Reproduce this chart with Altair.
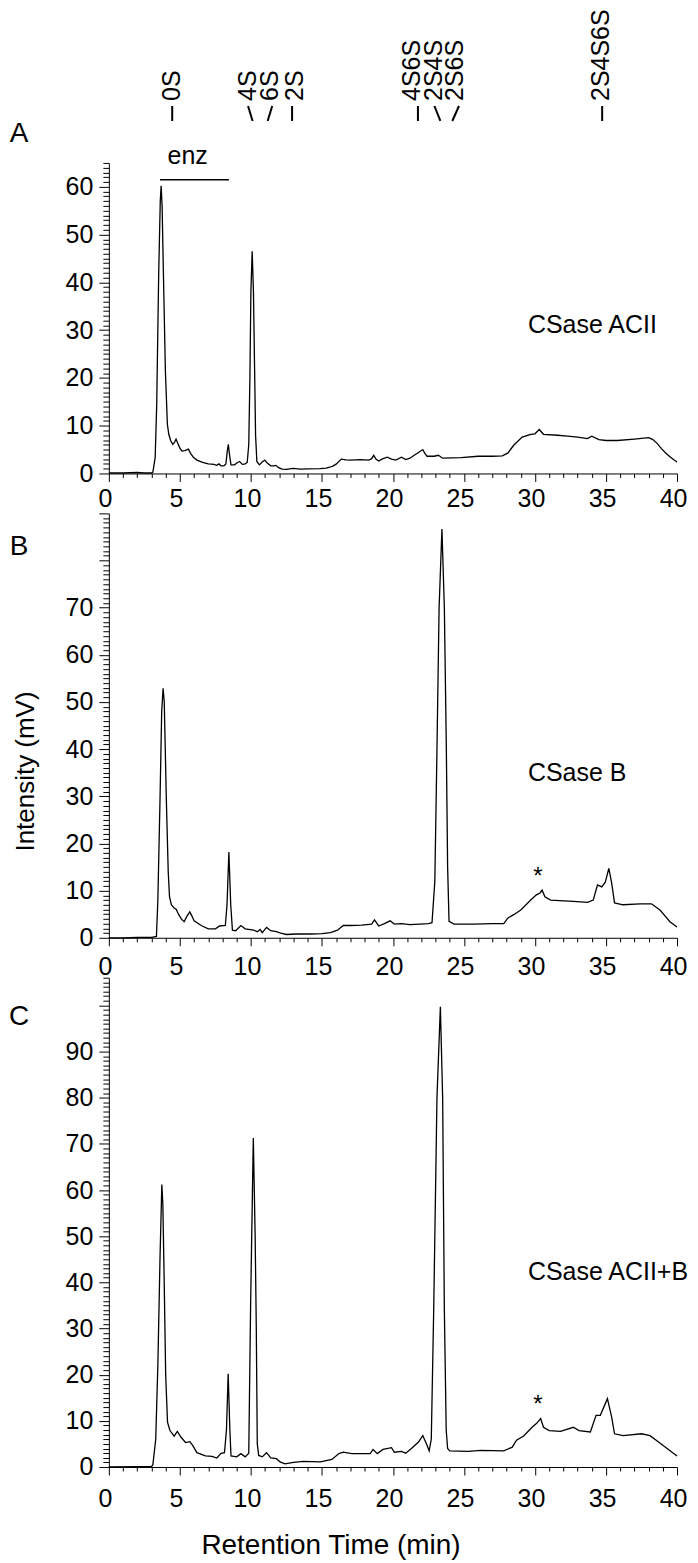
import altair as alt
import pandas as pd

FONT = "Liberation Sans"

# ---------------- chromatogram traces (retention time, mV) ----------------
A_T = [0.0, 1.0, 2.0, 2.5, 3.0, 3.1, 3.26, 3.37, 3.51, 3.62, 3.68, 3.75, 3.84, 3.98, 4.12, 4.22,
       4.35, 4.5, 4.62, 4.73, 4.85, 5.0, 5.15, 5.35, 5.6, 5.75, 5.95, 6.2, 6.6, 7.0, 7.4, 7.6,
       7.75, 7.9, 8.1, 8.24, 8.33, 8.41, 8.5, 8.6, 8.85, 9.05, 9.2, 9.4, 9.6, 9.74, 9.85, 9.93,
       10.0, 10.09, 10.18, 10.26, 10.33, 10.42, 10.6, 10.8, 10.98, 11.15, 11.4, 11.6, 11.76,
       11.95, 12.2, 12.5, 12.97, 13.5, 14.0, 14.85, 15.3, 15.55, 15.8, 16.0, 16.37, 16.7, 17.0,
       17.7, 18.3, 18.5, 18.65, 18.8, 19.0, 19.3, 19.6, 19.9, 20.2, 20.6, 20.9, 21.2, 21.5,
       21.8, 22.1, 22.25, 22.4, 22.9, 23.2, 23.5, 24.8, 26.0, 27.0, 27.7, 28.1, 28.5, 29.1,
       29.7, 30.0, 30.3, 30.6, 31.6, 32.3, 33.0, 33.7, 34.0, 34.5, 35.0, 35.8, 37.0, 38.0,
       38.3, 38.6, 38.9, 39.2, 39.5, 39.8, 40.0]
A_V = [0.1, 0.1, 0.2, 0.1, 0.1, 0.3, 3.3, 14.5, 42, 57, 60.2, 56, 42, 21.5, 10.3, 8.2,
       6.9, 6.1, 6.5, 7.2, 6.3, 5.3, 4.7, 4.8, 5.1, 4.2, 3.4, 2.8, 2.3, 2.0, 1.9, 1.7,
       2.0, 1.6, 1.6, 2.0, 4.5, 6.1, 3.8, 1.8, 1.8, 2.3, 2.5, 1.9, 2.0, 2.3, 6, 20,
       38, 46.5, 38, 22, 8, 2.5, 1.8, 2.4, 2.8, 2.2, 1.6, 1.6, 1.7,
       1.2, 0.9, 0.85, 1.05, 0.9, 0.95, 1.0, 1.1, 1.3, 1.6, 1.95, 3.0, 2.85, 2.8,
       2.9, 2.8, 3.1, 3.8, 3.0, 2.6, 3.1, 3.4, 3.0, 2.8, 3.4, 2.9, 3.2, 3.8,
       4.4, 5.0, 4.2, 3.6, 3.6, 3.8, 3.2, 3.3, 3.6, 3.6, 3.7, 4.3, 5.9, 7.6,
       8.2, 8.3, 9.2, 8.2, 8.0, 7.8, 7.6, 7.3, 7.8, 7.1, 6.9, 6.9, 7.2, 7.5,
       7.1, 6.3, 5.2, 4.3, 3.5, 2.8, 2.4]

B_T = [0.0, 1.0, 2.0, 3.0, 3.35, 3.45, 3.6, 3.72, 3.82, 3.9, 4.05, 4.18, 4.27, 4.4, 4.6, 4.75,
       4.9, 5.1, 5.3, 5.5, 5.7, 5.85, 6.0, 6.5, 7.0, 7.5, 7.8, 8.2, 8.32, 8.45, 8.58, 8.7,
       8.93, 9.3, 9.6, 10.2, 10.45, 10.65, 10.8, 11.1, 11.4, 11.8, 12.1, 12.5, 13.2, 14.2,
       15.0, 15.6, 16.1, 16.5, 17.0, 17.8, 18.5, 18.7, 19.0, 19.4, 19.8, 20.1, 20.6, 21.2,
       21.9, 22.5, 22.75, 22.95, 23.1, 23.25, 23.45, 23.62, 23.76, 23.85, 23.95, 24.3, 25.7,
       27.0, 27.8, 28.1, 28.5, 29.0, 29.7, 30.1, 30.35, 30.5, 30.7, 31.1, 32.7, 33.7, 34.1,
       34.4, 34.7, 34.95, 35.2, 35.4, 35.6, 36.2, 37.4, 38.2, 38.8, 39.2, 39.5, 40.0]
B_V = [0.0, 0.0, 0.1, 0.1, 0.3, 8, 29, 48, 52.9, 50, 29, 14, 8.7, 7.0, 6.3, 6.0,
       5.0, 4.0, 3.4, 4.6, 5.5, 4.6, 3.6, 2.6, 1.9, 1.9, 2.5, 2.6, 7, 18.2, 7, 1.6,
       1.5, 2.6, 1.9, 1.6, 1.3, 1.75, 1.1, 2.2, 1.5, 1.3, 1.0, 0.7, 0.8, 0.8,
       0.9, 1.1, 1.6, 2.6, 2.6, 2.7, 2.9, 3.8, 2.5, 3.0, 3.6, 2.9, 3.0, 2.8,
       2.9, 3.0, 3.2, 12, 40, 70, 86.7, 70, 40, 15, 3.5, 2.9, 2.9,
       3.0, 3.0, 4.2, 4.9, 5.9, 8.0, 9.1, 9.5, 10.1, 8.7, 8.0, 7.7, 7.5, 8.0,
       11.2, 10.8, 11.8, 14.7, 11.6, 7.4, 7.0, 7.2, 7.2, 5.9, 4.5, 3.4, 2.3]

C_T = [0.0, 2.0, 3.0, 3.1, 3.3, 3.45, 3.6, 3.73, 3.8, 3.89, 4.0, 4.13, 4.3, 4.6, 4.82, 5.07,
       5.4, 5.7, 5.9, 6.2, 6.8, 7.26, 7.6, 7.9, 8.14, 8.28, 8.4, 8.52, 8.6, 9.0, 9.3, 9.6,
       9.85, 9.98, 10.17, 10.3, 10.38, 10.45, 10.55, 10.8, 11.1, 11.4, 11.8, 12.05, 12.4,
       13.0, 13.7, 14.9, 15.7, 16.2, 16.5, 17.1, 18.4, 18.6, 18.9, 19.3, 19.9, 20.1, 20.6,
       20.9, 21.3, 21.8, 22.1, 22.4, 22.55, 22.7, 22.87, 23.1, 23.34, 23.5, 23.62, 23.75,
       23.85, 24.0, 25.3, 26.2, 27.8, 28.4, 28.7, 29.2, 29.8, 30.1, 30.4, 30.6, 31.0, 31.8,
       32.7, 33.1, 33.9, 34.3, 34.6, 35.1, 35.4, 35.6, 36.2, 37.5, 38.1, 38.7, 39.3, 40.0]
C_V = [0.0, 0.1, 0.1, 0.5, 6, 22, 45, 61.2, 57, 41.4, 20, 9.7, 7.9, 6.7, 7.7, 6.5,
       5.3, 5.5, 4.7, 3.1, 2.4, 2.3, 1.95, 2.95, 3.1, 8, 20.2, 8, 2.4, 2.2, 2.9, 2.2,
       3, 35, 71.3, 50, 30, 5, 2.5, 2.2, 3.1, 1.95, 1.8, 1.1, 0.7,
       1.0, 1.2, 1.1, 1.65, 2.9, 3.2, 2.9, 2.9, 3.8, 2.9, 3.8, 4.2, 3.2, 3.4,
       3.0, 4.0, 5.4, 6.8, 4.7, 3.5, 6, 34, 80, 99.7, 80, 34, 8,
       4.0, 3.5, 3.4, 3.6, 3.5, 4.3, 5.8, 6.7, 8.6, 9.4, 10.5, 8.6, 7.9, 7.7,
       8.6, 7.9, 7.6, 11.2, 11.2, 14.8, 10.8, 7.2, 6.8, 7.2, 6.8, 5.4, 4.0, 2.4]

# ---------------- standards marked above panel A ----------------
STD_NAMES = ["0S", "4S", "6S", "2S", "4S6S", "2S4S", "2S6S", "2S4S6S"]
STD_LABEL_T = [4.42, 9.77, 11.32, 13.08, 21.37, 22.92, 24.39, 34.66]
STD_TICK_TOP_T = [4.46, 9.80, 11.50, 12.90, 21.76, 22.92, 24.65, 34.73]
STD_TICK_BOT_T = [4.46, 10.12, 11.18, 12.90, 21.76, 23.34, 24.18, 34.73]

ENZ_START, ENZ_END, ENZ_LEVEL = 3.6, 8.45, 61.5
ENZ_TEXT_T, ENZ_TEXT_V = 5.55, 66.5

PANEL_LETTERS = ["A", "B", "C"]
PANEL_NAMES = ["CSase ACII", "CSase B", "CSase ACII+B"]
PANEL_NAME_T = 29.5
PANEL_NAME_V = [31.0, 34.9, 42.2]
STAR_T = 30.2
STAR_V = [None, 12.8, 13.4]

Y_TOPS = [65, 90, 106]
Y_LABEL_MAX = [60, 70, 90]
HEIGHTS = [311, 425, 490]
LETTER_Y = [-29, 34, 39]
X_LABEL_PAD = [5, 9, 12]
WIDTH = 569


def x_axis(i):
    kw = dict(
        values=list(range(0, 41)),
        tickCount=1000,
        format="d",
        labelExpr="datum.value % 5 === 0 ? datum.label : ''",
        tickSize={"condition": {"test": "datum.value % 5 === 0", "value": 8}, "value": 4},
        labelFontSize=25, labelPadding=X_LABEL_PAD[i], labelOffset=-4,
        labelOverlap=False, labelFlush=False,
        grid=False, domainColor="black", tickColor="black", labelColor="black",
        labelFont=FONT,
    )
    if i == 2:
        kw.update(title="Retention Time (min)", titleFontSize=28, titleFont=FONT,
                  titleFontWeight="normal", titleColor="black", titleX=222, titleY=79,
                  titleAlign="center", titleBaseline="middle")
    else:
        kw.update(title="")
    return alt.Axis(**kw)


def y_axis(top, label_max, with_title):
    kw = dict(
        values=list(range(0, top + 1)),
        tickCount=1000,
        format="d",
        labelExpr=f"datum.value % 10 === 0 && datum.value <= {label_max} ? datum.label : ''",
        tickSize={"condition": {"test": "datum.value % 10 === 0", "value": 10}, "value": 6},
        labelFontSize=25, labelPadding=6, labelOverlap=False, labelFlush=False,
        grid=False, domainColor="black", tickColor="black", labelColor="black",
        labelFont=FONT,
    )
    if with_title:
        kw.update(title="Intensity (mV)", titleFontSize=26, titleFont=FONT,
                  titleFontWeight="normal", titleColor="black", titleX=-83, titleY=258,
                  titleAngle=270, titleAlign="center", titleBaseline="middle")
    else:
        kw.update(title="")
    return alt.Axis(**kw)


def panel(i, ts, vs):
    top = Y_TOPS[i]
    xs = alt.Scale(domain=[0, 40], nice=False)
    ys = alt.Scale(domain=[0, top], nice=False)
    df = pd.DataFrame({"t": ts, "v": vs})
    line = alt.Chart(df).mark_line(color="black", strokeWidth=1.3).encode(
        x=alt.X("t:Q", scale=xs, axis=x_axis(i)),
        y=alt.Y("v:Q", scale=ys, axis=y_axis(top, Y_LABEL_MAX[i], i == 1)),
    )
    layers = [line]

    letter = alt.Chart(pd.DataFrame({"s": [PANEL_LETTERS[i]]})).mark_text(
        font=FONT, fontSize=28, align="center", baseline="middle", color="black"
    ).encode(text="s:N", x=alt.value(-90), y=alt.value(LETTER_Y[i]))
    layers.append(letter)

    name = alt.Chart(pd.DataFrame({"s": [PANEL_NAMES[i]], "t": [PANEL_NAME_T],
                                   "v": [PANEL_NAME_V[i]]})).mark_text(
        font=FONT, fontSize=25, align="left", baseline="middle", color="black"
    ).encode(text="s:N", x=alt.X("t:Q", scale=xs), y=alt.Y("v:Q", scale=ys))
    layers.append(name)

    if STAR_V[i] is not None:
        star = alt.Chart(pd.DataFrame({"s": ["*"], "t": [STAR_T], "v": [STAR_V[i]]})).mark_text(
            font=FONT, fontSize=24, align="center", baseline="middle", color="black"
        ).encode(text="s:N", x=alt.X("t:Q", scale=xs), y=alt.Y("v:Q", scale=ys))
        layers.append(star)

    if i == 0:
        std = pd.DataFrame({"name": STD_NAMES, "lt": STD_LABEL_T,
                            "t0": STD_TICK_TOP_T, "t1": STD_TICK_BOT_T})
        std_text = alt.Chart(std).mark_text(
            font=FONT, fontSize=25, angle=270, align="left", baseline="middle", color="black"
        ).encode(text="name:N", x=alt.X("lt:Q", scale=xs), y=alt.value(-62))
        std_tick = alt.Chart(std).mark_rule(color="black", strokeWidth=2).encode(
            x=alt.X("t0:Q", scale=xs), x2="t1:Q", y=alt.value(-57), y2=alt.value(-42))
        enz = pd.DataFrame({"a": [ENZ_START], "b": [ENZ_END], "v": [ENZ_LEVEL],
                            "tt": [ENZ_TEXT_T], "tv": [ENZ_TEXT_V], "s": ["enz"]})
        enz_rule = alt.Chart(enz).mark_rule(color="black", strokeWidth=1.5).encode(
            x=alt.X("a:Q", scale=xs), x2="b:Q", y=alt.Y("v:Q", scale=ys))
        enz_text = alt.Chart(enz).mark_text(
            font=FONT, fontSize=25, align="center", baseline="middle", color="black"
        ).encode(text="s:N", x=alt.X("tt:Q", scale=xs), y=alt.Y("tv:Q", scale=ys))
        layers += [std_text, std_tick, enz_rule, enz_text]

    return alt.layer(*layers).properties(width=WIDTH, height=HEIGHTS[i])


chart = alt.vconcat(
    panel(0, A_T, A_V),
    panel(1, B_T, B_V),
    panel(2, C_T, C_V),
    spacing=40,
    bounds="flush",
).properties(padding=0).configure_view(stroke=None)

chart.save("out.html", embed_options={"renderer": "svg", "actions": False})
